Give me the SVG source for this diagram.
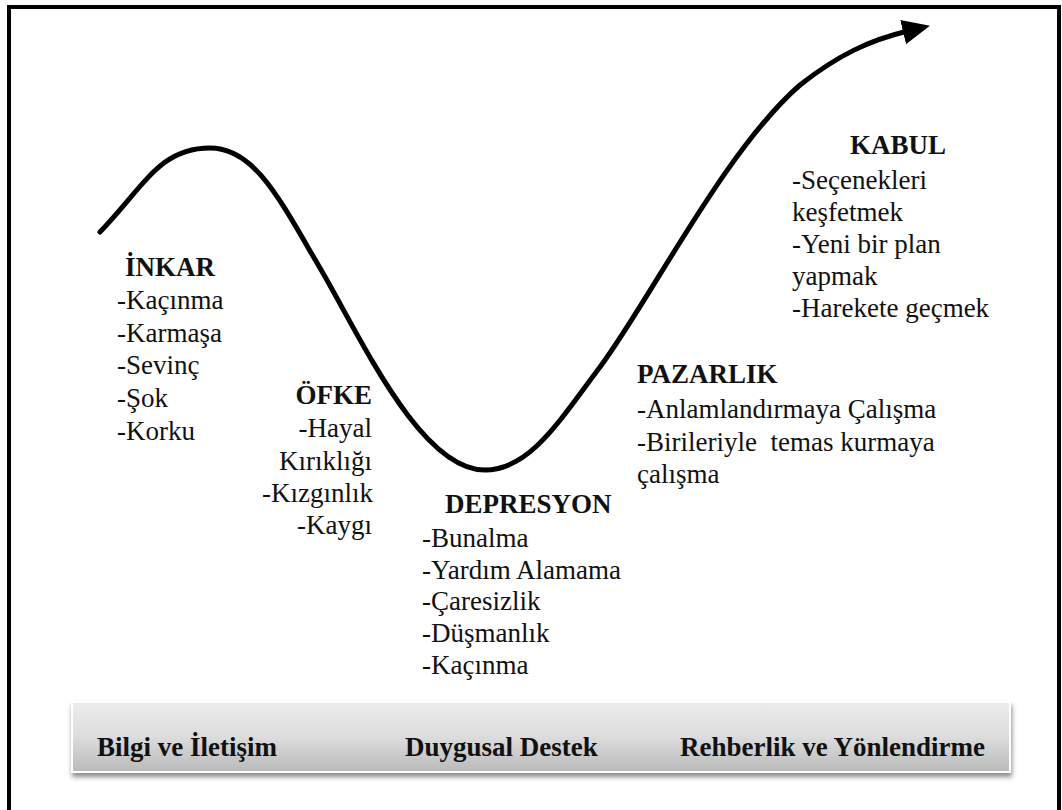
<svg xmlns="http://www.w3.org/2000/svg" width="1062" height="810" viewBox="0 0 1062 810">
<defs>
<style>
.t{font-family:"Liberation Serif","Times New Roman","DejaVu Serif",serif;font-size:27px;fill:#111}
.h{font-family:"Liberation Serif","Times New Roman","DejaVu Serif",serif;font-size:27px;font-weight:bold;fill:#111}
.curve{fill:none;stroke:#000;stroke-width:5;stroke-linecap:round;stroke-linejoin:round}
</style>
<linearGradient id="barg" x1="0" y1="0" x2="0" y2="1">
<stop offset="0" stop-color="#ececec"/>
<stop offset="0.5" stop-color="#dcdcdc"/>
<stop offset="1" stop-color="#bababa"/>
</linearGradient>
<filter id="sh" x="-5%" y="-20%" width="110%" height="150%">
<feDropShadow dx="1" dy="4" stdDeviation="2.5" flood-color="#000" flood-opacity="0.45"/>
</filter>
<marker id="arr" markerUnits="userSpaceOnUse" markerWidth="30" markerHeight="30" refX="4" refY="10" orient="auto" viewBox="0 0 24 20">
<path d="M0,0 L22,10 L0,20 Z" fill="#000"/>
</marker>
</defs>
<rect x="0" y="0" width="1062" height="810" fill="#fff"/>
<path d="M9,830 V7 H1059 V830" fill="none" stroke="#000" stroke-width="4"/>

<g id="connectors">
<path class="curve" marker-end="url(#arr)" d="M100,232 C145,185 160,148 210,148 C255,148 280,200 320,268 C360,336 420,470 485,470 C530,470 560,420 600,367 C650,300 725,150 800,85 C838,55 870,40 908,31"/>
</g>

<g id="inkar">
<text class="h" x="125" y="276">İNKAR</text>
<text class="t" x="117" y="309">-Kaçınma</text>
<text class="t" x="117" y="342">-Karmaşa</text>
<text class="t" x="117" y="374">-Sevinç</text>
<text class="t" x="117" y="407">-Şok</text>
<text class="t" x="117" y="440">-Korku</text>
</g>

<g id="ofke" text-anchor="end">
<text class="h" x="372" y="404">ÖFKE</text>
<text class="t" x="372" y="437">-Hayal</text>
<text class="t" x="372" y="470">Kırıklığı</text>
<text class="t" x="373" y="502">-Kızgınlık</text>
<text class="t" x="372" y="534">-Kaygı</text>
</g>

<g id="depresyon">
<text class="h" x="445" y="513">DEPRESYON</text>
<text class="t" x="422" y="547">-Bunalma</text>
<text class="t" x="422" y="579">-Yardım Alamama</text>
<text class="t" x="422" y="610">-Çaresizlik</text>
<text class="t" x="422" y="642">-Düşmanlık</text>
<text class="t" x="422" y="674">-Kaçınma</text>
</g>

<g id="pazarlik">
<text class="h" x="637" y="383">PAZARLIK</text>
<text class="t" x="637" y="418">-Anlamlandırmaya Çalışma</text>
<text class="t" x="637" y="451" xml:space="preserve">-Birileriyle  temas kurmaya</text>
<text class="t" x="637" y="483">çalışma</text>
</g>

<g id="kabul">
<text class="h" x="850" y="154">KABUL</text>
<text class="t" x="792" y="189">-Seçenekleri</text>
<text class="t" x="792" y="221">keşfetmek</text>
<text class="t" x="792" y="253">-Yeni bir plan</text>
<text class="t" x="792" y="285">yapmak</text>
<text class="t" x="792" y="317">-Harekete geçmek</text>
</g>

<g id="bar">
<rect x="72" y="702" width="938" height="70" fill="url(#barg)" stroke="#fff" stroke-width="2" filter="url(#sh)"/>
<text class="h" x="97" y="756">Bilgi ve İletişim</text>
<text class="h" x="405" y="756">Duygusal Destek</text>
<text class="h" x="680" y="756">Rehberlik ve Yönlendirme</text>
</g>
</svg>
